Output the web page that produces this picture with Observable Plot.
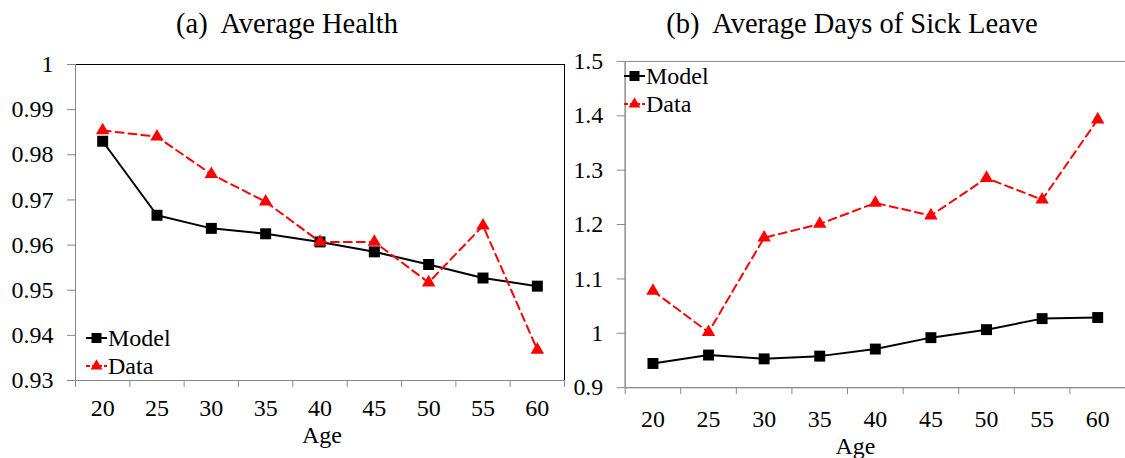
<!DOCTYPE html>
<html>
<head>
<meta charset="utf-8">
<script src="https://cdn.jsdelivr.net/npm/d3@7"></script>
<script src="https://cdn.jsdelivr.net/npm/@observablehq/plot@0.6"></script>
<style>
  html, body { margin: 0; padding: 0; background: #fff; }
  body { width: 1125px; height: 458px; overflow: hidden; position: relative; font-family: "Liberation Serif", "Times New Roman", Times, "DejaVu Serif", serif; color: #000; }
  .title { position: absolute; top: 10px; font-size: 28.5px; line-height: 28px; text-align: center; white-space: pre; }
  .panel { position: absolute; top: 44px; }
  .leg { position: absolute; display: flex; align-items: center; height: 24px; font-size: 24px; line-height: 24px; }
  .leg svg { display: block; margin-right: 1px; }
</style>
</head>
<body>
<div class="title" style="left:0;width:574px;">(a)  Average Health</div>
<div class="title" style="left:570px;width:564px;">(b)  Average Days of Sick Leave</div>
<div id="left" class="panel" style="left:0;"></div>
<div id="right" class="panel" style="left:560px;"></div>
<div id="legends"></div>
<script>
// ---- data ----
const ages = [20, 25, 30, 35, 40, 45, 50, 55, 60];
const healthModel = [0.9830, 0.9666, 0.9637, 0.9625, 0.9607, 0.9585, 0.9557, 0.9527, 0.9509];
const healthData  = [0.9854, 0.9840, 0.9757, 0.9696, 0.9607, 0.9607, 0.9517, 0.9643, 0.9368];
const sickModel   = [0.9445, 0.9600, 0.9530, 0.9580, 0.9710, 0.9920, 1.0067, 1.0270, 1.0290];
const sickData    = [1.0780, 1.0020, 1.1757, 1.2010, 1.2397, 1.2165, 1.2854, 1.2457, 1.3930];
const healthTicks = [0.93, 0.94, 0.95, 0.96, 0.97, 0.98, 0.99, 1.00];
const sickTicks   = [0.9, 1.0, 1.1, 1.2, 1.3, 1.4, 1.5];
const seriesNames = ["Model", "Data"];
const xLabel = "Age";

const FONT = '"Liberation Serif", "Times New Roman", Times, "DejaVu Serif", serif';

// band boundaries between categories (for the category axis tick marks)
const step = ages[1] - ages[0];
const bounds = [ages[0] - step / 2, ...ages.map(a => a + step / 2)];
const fmt = d => String(+d.toFixed(2));

function panel(model, data, yTicks, o) {
  const rows = ages.map((a, i) => ({age: a, model: model[i], data: data[i]}));
  const yDomain = [yTicks[0], yTicks[yTicks.length - 1]];
  return Plot.plot({
    width: o.width, height: 414,
    marginLeft: o.mL, marginRight: o.mR, marginTop: o.mT, marginBottom: o.mB,
    style: {fontFamily: FONT, fontSize: "24px", color: "#000", background: "transparent", overflow: "visible"},
    x: {type: "linear", domain: [bounds[0], bounds[bounds.length - 1]]},
    y: {domain: yDomain},
    marks: [
      Plot.frame({stroke: o.frame, strokeWidth: 1}),
      Plot.ruleX([bounds[0]], {stroke: "#888"}),
      Plot.ruleY([yDomain[0]], {stroke: "#888"}),
      Plot.axisY({ticks: yTicks, tickSize: 8, tickFormat: () => "", stroke: "#888", label: null}),
      Plot.axisY({ticks: yTicks, tickSize: 0, tickPadding: 22, tickFormat: fmt, label: null, fontSize: 24}),
      Plot.axisX({ticks: bounds, tickSize: 7, tickFormat: () => "", stroke: "#888", label: null}),
      Plot.axisX({ticks: ages, tickSize: 0, tickPadding: o.xPad, tickFormat: d => String(d), label: null, fontSize: 24}),
      Plot.line(rows, {x: "age", y: "model", stroke: "#000", strokeWidth: 2}),
      Plot.dot(rows, {x: "age", y: "model", symbol: "square", r: 6.2, fill: "#000"}),
      Plot.line(rows, {x: "age", y: "data", stroke: "#ff0000", strokeWidth: 2, strokeDasharray: "8,5"}),
      Plot.dot(rows, {x: "age", y: "data", symbol: "triangle", r: 5, fill: "#ff0000"}),
      Plot.text([xLabel], {frameAnchor: "bottom", lineAnchor: "top", dy: o.ageDy, dx: o.ageDx, fontSize: 24, fill: "#000"})
    ]
  });
}

document.getElementById("left").append(panel(healthModel, healthData, healthTicks,
  {width: 575, mL: 75, mR: 11, mT: 20, mB: 78, frame: "#000", xPad: 18, ageDy: 45, ageDx: 2}));
document.getElementById("right").append(panel(sickModel, sickData, sickTicks,
  {width: 568, mL: 65, mR: 0, mT: 17, mB: 69, frame: "#888", xPad: 22, ageDy: 50, ageDx: -20}));

// ---- legends ----
function legend(left, yModel, yData) {
  const box = document.getElementById("legends");
  const items = [
    {name: seriesNames[0], y: yModel, color: "#000", dash: null, shape: "square"},
    {name: seriesNames[1], y: yData, color: "#ff0000", dash: "4,2", shape: "triangle"}
  ];
  for (const it of items) {
    const div = document.createElement("div");
    div.className = "leg";
    div.style.left = left + "px";
    div.style.top = (it.y - 12) + "px";
    const sym = d3.create("svg").attr("width", 21).attr("height", 14);
    sym.append("line").attr("x1", 0).attr("x2", 21).attr("y1", 7).attr("y2", 7)
      .attr("stroke", it.color).attr("stroke-width", 2).attr("stroke-dasharray", it.dash);
    sym.append("path").attr("transform", "translate(10.5,7)")
      .attr("d", d3.symbol(it.shape === "square" ? d3.symbolSquare : d3.symbolTriangle, it.shape === "square" ? 100 : 60)())
      .attr("fill", it.color);
    div.append(sym.node());
    const span = document.createElement("span");
    span.textContent = it.name;
    div.append(span);
    box.append(div);
  }
}
legend(86, 338, 366);
legend(624, 76, 104);
</script>
</body>
</html>
